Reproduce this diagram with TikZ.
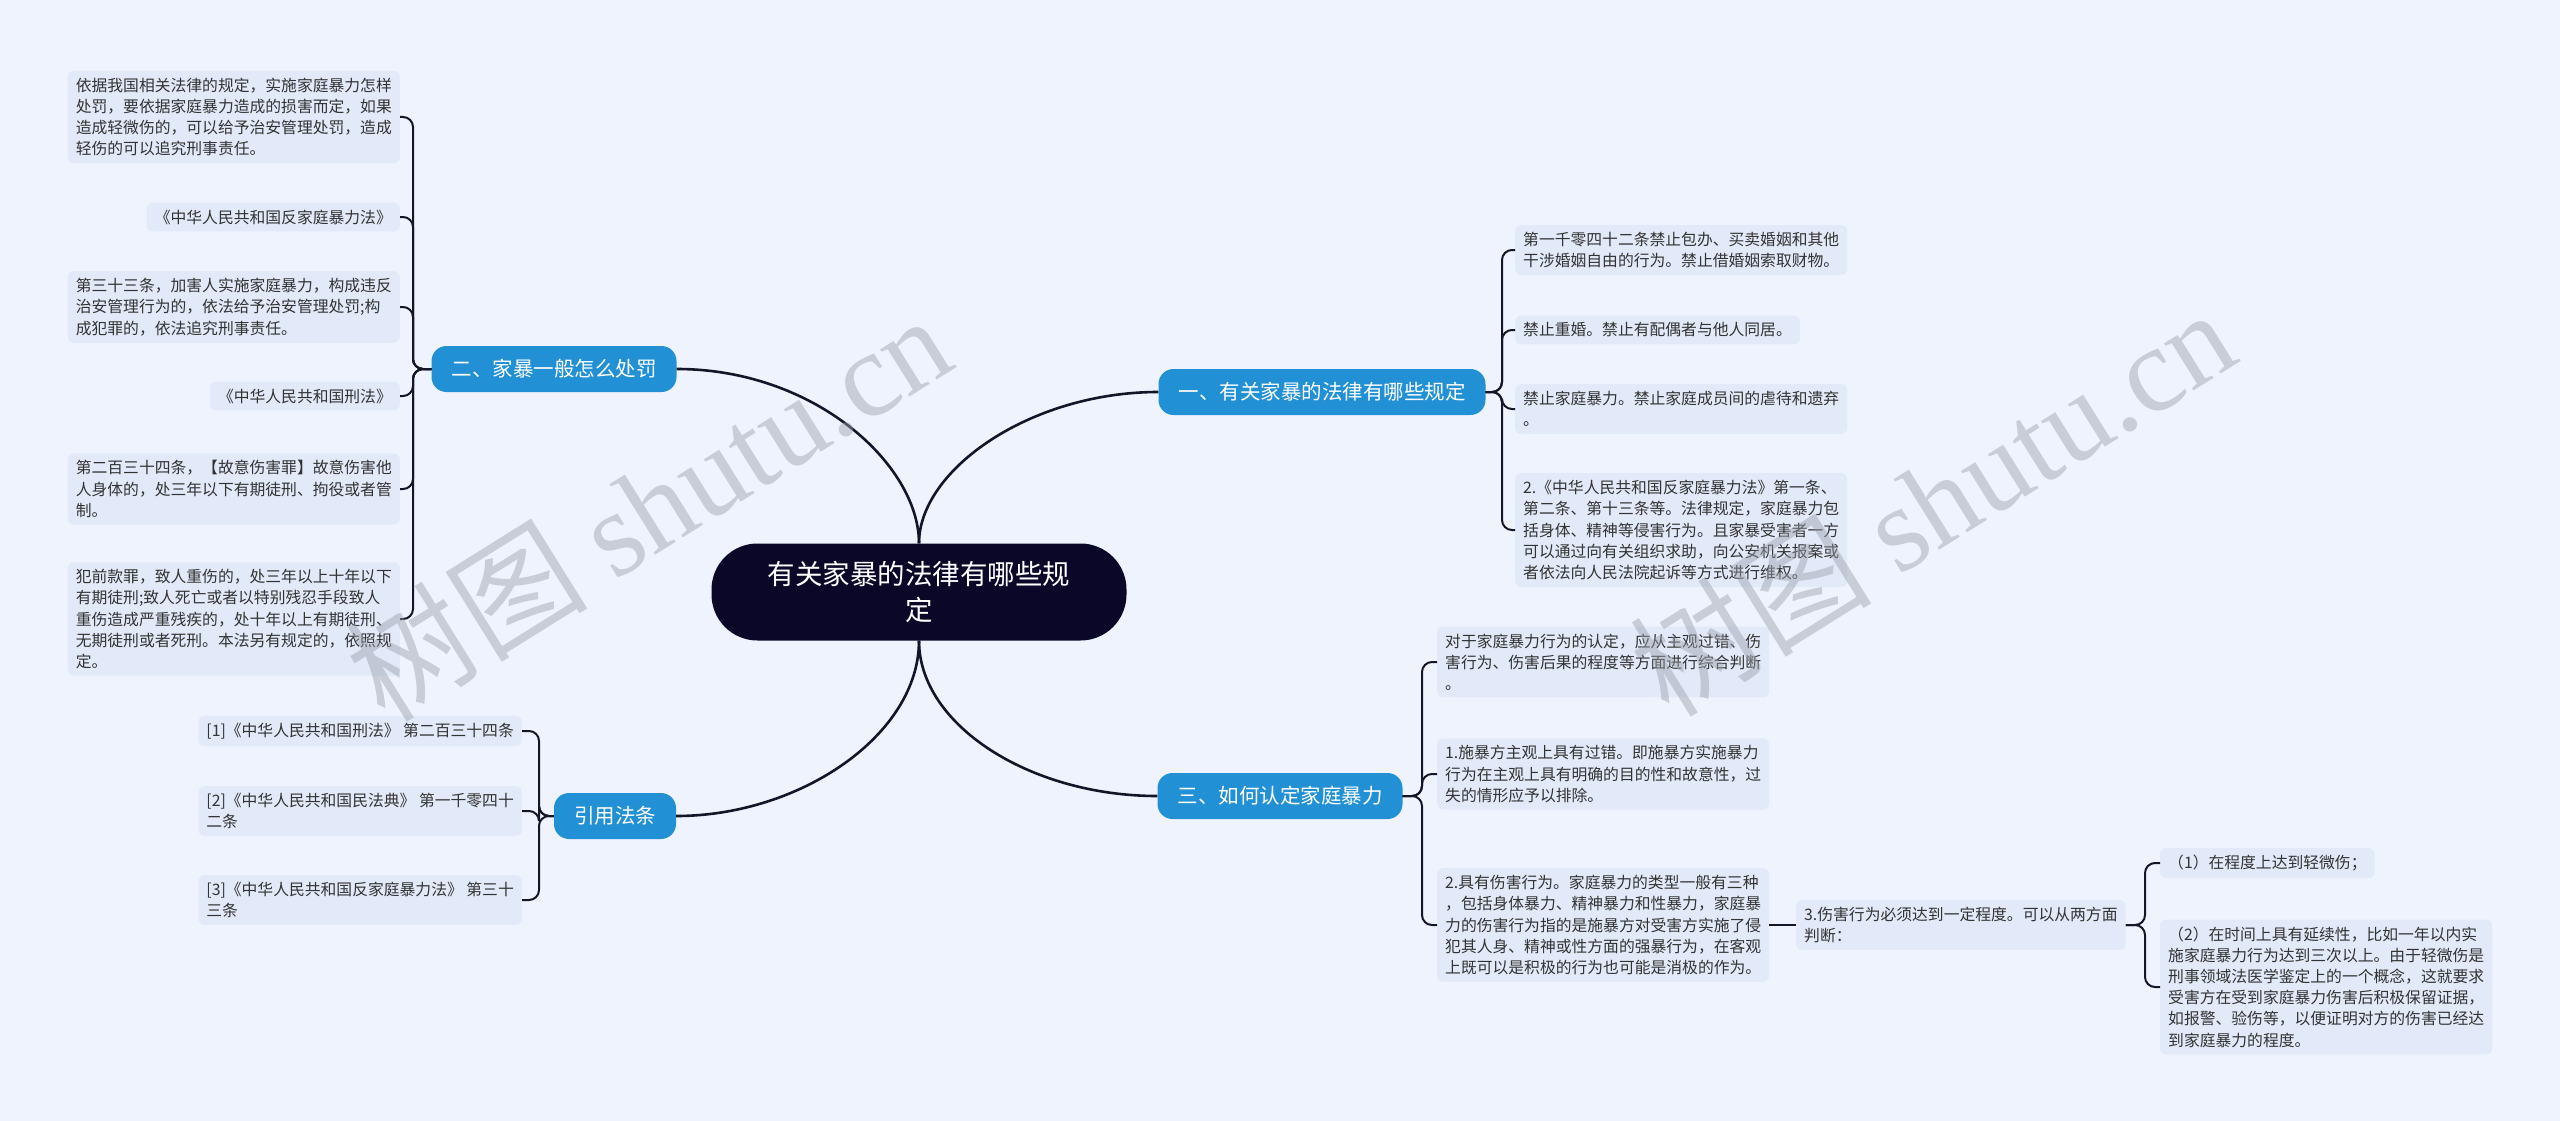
\documentclass[tikz,border=0pt]{standalone}
\usepackage{fontspec}
\setmainfont{Noto Sans CJK SC}
\newfontfamily\wmlatin{Liberation Serif}
\definecolor{bgc}{HTML}{EEF3FD}
\definecolor{leafc}{HTML}{E2E9F9}
\definecolor{brc}{HTML}{2290D4}
\definecolor{rootc}{HTML}{0B0729}
\definecolor{linec}{HTML}{15152A}
\definecolor{txtc}{HTML}{333333}
\definecolor{wmc}{HTML}{9A9FAA}
\begin{document}
\begin{tikzpicture}[x=1pt,y=-1pt,
  conn/.style={draw=linec, line width=2pt, rounded corners=10pt},
  mainconn/.style={draw=linec, line width=2.6pt},
  leaf/.style={fill=leafc, rounded corners=6pt, inner xsep=8pt, inner ysep=7pt, align=left, text=txtc, font=\fontsize{15.8}{21.2}\selectfont},
  branch/.style={fill=brc, text=white, rounded corners=15pt, minimum height=46pt, inner xsep=20pt, font=\fontsize{20.5}{24}\selectfont},
  rootn/.style={fill=rootc, text=white, rounded corners=46pt, minimum width=415pt, minimum height=97pt, align=center, font=\fontsize{27.5}{36}\selectfont},
  wm/.style={text=wmc, opacity=0.45, font=\fontsize{121}{121}\selectfont, rotate=32}
]
\fill[bgc] (0,0) rectangle (2560,1121);
\useasboundingbox (0,0) rectangle (2560,1121);

% root and branches
\node[rootn] (root) at (919,592) {有关家暴的法律有哪些规\\定};
\node[branch] (b2) at (554,369) {二、家暴一般怎么处罚};
\node[branch] (b1) at (1322,392) {一、有关家暴的法律有哪些规定};
\node[branch] (b3) at (1280,796) {三、如何认定家庭暴力};
\node[branch] (bc) at (615,816) {引用法条};

% main connectors
\draw[mainconn] (root.north) .. controls (919,465) and (815,369) .. (b2.east);
\draw[mainconn] (root.north) .. controls (919,470) and (1030,392) .. (b1.west);
\draw[mainconn] (root.south) .. controls (919,725) and (1030,796) .. (b3.west);
\draw[mainconn] (root.south) .. controls (919,735) and (800,816) .. (bc.east);

% left group
\node[leaf, anchor=east] (L1) at (400,117) {依据我国相关法律的规定，实施家庭暴力怎样\\处罚，要依据家庭暴力造成的损害而定，如果\\造成轻微伤的，可以给予治安管理处罚，造成\\轻伤的可以追究刑事责任。};
\node[leaf, anchor=east] (L2) at (400,217) {《中华人民共和国反家庭暴力法》};
\node[leaf, anchor=east] (L3) at (400,307) {第三十三条，加害人实施家庭暴力，构成违反\\治安管理行为的，依法给予治安管理处罚;构\\成犯罪的，依法追究刑事责任。};
\node[leaf, anchor=east] (L4) at (400,396) {《中华人民共和国刑法》};
\node[leaf, anchor=east] (L5) at (400,489) {第二百三十四条，【故意伤害罪】故意伤害他\\人身体的，处三年以下有期徒刑、拘役或者管\\制。};
\node[leaf, anchor=east] (L6) at (400,619) {犯前款罪，致人重伤的，处三年以上十年以下\\有期徒刑;致人死亡或者以特别残忍手段致人\\重伤造成严重残疾的，处十年以上有期徒刑、\\无期徒刑或者死刑。本法另有规定的，依照规\\定。};
\foreach \n in {L1,L2,L3,L4,L5,L6}
  \draw[conn] (b2.west) -- (413,369) |- (\n.east);

% right group 1
\node[leaf, anchor=west] (R1) at (1515,250) {第一千零四十二条禁止包办、买卖婚姻和其他\\干涉婚姻自由的行为。禁止借婚姻索取财物。};
\node[leaf, anchor=west] (R2) at (1515,330) {禁止重婚。禁止有配偶者与他人同居。};
\node[leaf, anchor=west] (R3) at (1515,409) {禁止家庭暴力。禁止家庭成员间的虐待和遗弃\\。};
\node[leaf, anchor=west] (R4) at (1515,530) {2.《中华人民共和国反家庭暴力法》第一条、\\第二条、第十三条等。法律规定，家庭暴力包\\括身体、精神等侵害行为。且家暴受害者一方\\可以通过向有关组织求助，向公安机关报案或\\者依法向人民法院起诉等方式进行维权。};
\foreach \n in {R1,R2,R3,R4}
  \draw[conn] (b1.east) -- (1502,392) |- (\n.west);

% right group 3
\node[leaf, anchor=west] (T1) at (1437,662) {对于家庭暴力行为的认定，应从主观过错、伤\\害行为、伤害后果的程度等方面进行综合判断\\。};
\node[leaf, anchor=west] (T2) at (1437,774) {1.施暴方主观上具有过错。即施暴方实施暴力\\行为在主观上具有明确的目的性和故意性，过\\失的情形应予以排除。};
\node[leaf, anchor=west] (T3) at (1437,925) {2.具有伤害行为。家庭暴力的类型一般有三种\\，包括身体暴力、精神暴力和性暴力，家庭暴\\力的伤害行为指的是施暴方对受害方实施了侵\\犯其人身、精神或性方面的强暴行为，在客观\\上既可以是积极的行为也可能是消极的作为。};
\foreach \n in {T1,T2,T3}
  \draw[conn] (b3.east) -- (1422,796) |- (\n.west);
\node[leaf, anchor=west] (T4) at (1796,925) {3.伤害行为必须达到一定程度。可以从两方面\\判断：};
\draw[conn] (T3.east) -- (T4.west);
\node[leaf, anchor=west] (U1) at (2160,863) {（1）在程度上达到轻微伤；};
\node[leaf, anchor=west] (U2) at (2160,987) {（2）在时间上具有延续性，比如一年以内实\\施家庭暴力行为达到三次以上。由于轻微伤是\\刑事领域法医学鉴定上的一个概念，这就要求\\受害方在受到家庭暴力伤害后积极保留证据，\\如报警、验伤等，以便证明对方的伤害已经达\\到家庭暴力的程度。};
\foreach \n in {U1,U2}
  \draw[conn] (T4.east) -- (2145,925) |- (\n.west);

% citation group
\node[leaf, anchor=east] (C1) at (522,731) {[1]《中华人民共和国刑法》 第二百三十四条};
\node[leaf, anchor=east] (C2) at (522,811) {[2]《中华人民共和国民法典》 第一千零四十\\二条};
\node[leaf, anchor=east] (C3) at (522,900) {[3]《中华人民共和国反家庭暴力法》 第三十\\三条};
\foreach \n in {C1,C2,C3}
  \draw[conn] (bc.west) -- (539,816) |- (\n.east);

% watermarks
\node[wm] (wm1) at (648,506) {树图 {\wmlatin shutu.cn}};
\node[wm] (wm2) at (1932,501) {树图 {\wmlatin shutu.cn}};
\end{tikzpicture}
\end{document}
